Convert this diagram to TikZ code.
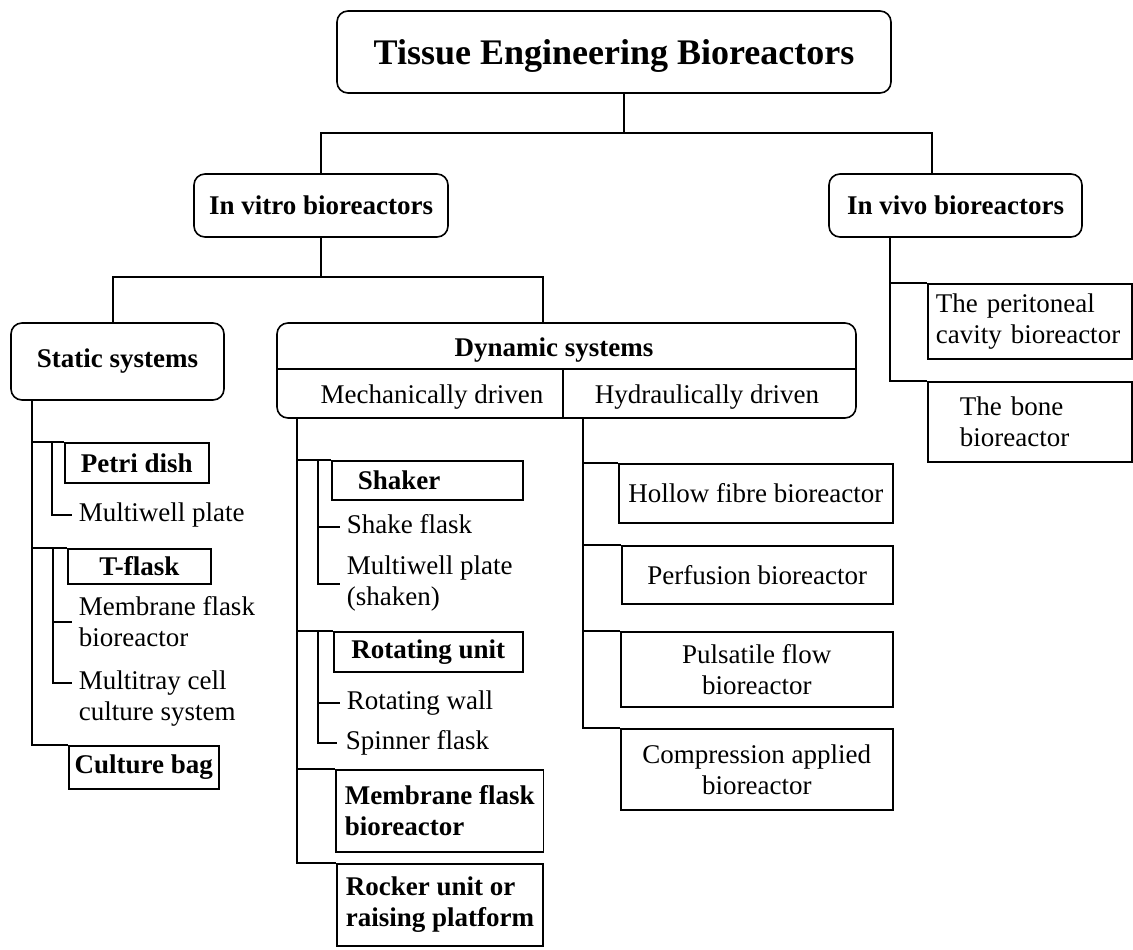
\documentclass[tikz,border=0pt]{standalone}
\usepackage{fontspec}
\setmainfont{Liberation Serif}
\usepackage{tikz}
\usetikzlibrary{calc}
\tikzstyle{every node}=[font=\fontsize{27}{31}\selectfont]
\tikzstyle{rbox}=[draw, rounded corners=11pt, font=\fontsize{27}{31}\selectfont\bfseries]
\tikzstyle{sbox}=[draw, inner sep=0pt, font=\fontsize{27}{31}\selectfont\bfseries]
\tikzstyle{pbox}=[draw, inner sep=0pt, align=center]
\tikzstyle{plain}=[inner xsep=6pt, inner ysep=0pt, align=left]

\begin{document}
\begin{tikzpicture}[x=1pt, y=-1pt, line width=1.6pt]
        \useasboundingbox (0,0) rectangle (1133,950);

        \node [rbox, minimum width=554pt, minimum height=82pt, text depth=0pt, font=\fontsize{36}{40}\selectfont\bfseries] (title) at (614,52) {Tissue Engineering Bioreactors};
        \node [rbox, minimum width=254pt, minimum height=63pt] (vitro) at (321,205.5) {In vitro bioreactors};
        \node [rbox, minimum width=253pt, minimum height=63pt] (vivo) at (955.5,205.5) {In vivo bioreactors};

        \coordinate (j0) at (624,133);
        \draw (title.south -| j0) -- (j0);
        \draw (vitro.north) |- (j0) -| (vivo.north -| 932,0);

        \node [rbox, minimum width=213pt, minimum height=77pt] (static) at (117.5,361.5) {Static systems};
        \node [rbox, minimum width=579pt, minimum height=95pt] (dyn) at (566.5,370.5) {};
        \node [font=\fontsize{27}{31}\selectfont\bfseries] (dyntitle) at (554,350) {Dynamic systems};
        \node (mech) at (432,397) {Mechanically driven};
        \node (hyd) at (707,397) {Hydraulically driven};
        \draw (dyn.west |- 0,369) -- (dyn.east |- 0,369);
        \draw (563,369) -- (dyn.south -| 563,0);

        \coordinate (j1) at (321,277);
        \draw (vitro.south) -- (j1);
        \draw (static.north -| 113,0) |- (j1) -| (dyn.north -| 543,0);

        \node [sbox, anchor=north west, minimum width=144pt, minimum height=40pt] (petri) at (64,442) {Petri dish};
        \node [plain, anchor=base west] (mwp) at (72,521) {Multiwell plate};
        \node [sbox, anchor=north west, minimum width=143pt, minimum height=35pt] (tflask) at (67,548) {T-flask};
        \node [plain, anchor=west] (mfb) at (72,622) {Membrane flask\\bioreactor};
        \node [plain, anchor=base west] (mtc) at (72,720) {Multitray cell\\culture system};
        \node [sbox, anchor=north west, minimum width=150pt, minimum height=43pt] (cbag) at (68,745) {Culture bag};

        \coordinate (sroot) at (static.south -| 32,0);
        \draw (sroot) |- (petri.north west);
        \draw (sroot) |- (tflask.north west);
        \draw (sroot) |- (cbag.north west);
        \draw (petri.north west -| 52,0) |- ([yshift=6pt]mwp.base west);
        \draw (tflask.north west -| 53,0) |- (mfb.west);
        \draw (tflask.north west -| 53,0) |- ([yshift=37pt]mtc.base west);

        \node [sbox, anchor=north west, minimum width=191pt, minimum height=39pt, text width=139pt, inner xsep=26pt, align=left] (shaker) at (331,460) {Shaker};
        \node [plain, anchor=base west] (shf) at (340,533) {Shake flask};
        \node [plain, anchor=west] (mwps) at (340,584) {Multiwell plate\\(shaken)};
        \node [sbox, anchor=north west, minimum width=189pt, minimum height=40pt] (rot) at (333,631) {Rotating unit};
        \node [plain, anchor=base west] (rwall) at (340,709) {Rotating wall};
        \node [plain, anchor=base west, inner xsep=8pt] (spin) at (337,749) {Spinner flask};
        \node [sbox, anchor=north west, inner xsep=9pt, minimum height=82pt, align=left] (memb) at (335,769) {Membrane flask\\bioreactor};
        \node [sbox, anchor=north west, inner xsep=9pt, minimum height=82pt, align=left] (rock) at (336,863) {Rocker unit or\\raising platform};

        \coordinate (mroot) at (dyn.south -| 297,0);
        \draw (mroot) |- (shaker.north west);
        \draw (mroot) |- (rot.north west);
        \draw (mroot) |- (memb.north west);
        \draw (mroot) |- (rock.north west);
        \draw (shaker.north west -| 318,0) |- ([yshift=6pt]shf.base west);
        \draw (shaker.north west -| 318,0) |- (mwps.west);
        \draw (rot.north west -| 318,0) |- ([yshift=6pt]rwall.base west);
        \draw (rot.north west -| 318,0) |- ([yshift=6pt]spin.base west);

        \node [pbox, anchor=north west, minimum width=274pt, minimum height=59pt] (hollow) at (618,463) {Hollow fibre bioreactor};
        \node [pbox, anchor=north west, minimum width=271pt, minimum height=58pt] (perf) at (621,545) {Perfusion bioreactor};
        \node [pbox, anchor=north west, minimum width=272pt, minimum height=75pt] (puls) at (620,631) {Pulsatile flow\\bioreactor};
        \node [pbox, anchor=north west, minimum width=272pt, minimum height=81pt] (comp) at (620,728) {Compression applied\\bioreactor};

        \coordinate (hroot) at (dyn.south -| 583,0);
        \draw (hroot) |- (hollow.north west);
        \draw (hroot) |- (perf.north west);
        \draw (hroot) |- (puls.north west);
        \draw (hroot) |- (comp.north west);

        \node [pbox, anchor=north west, minimum height=75pt, text width=188pt, inner xsep=8pt, align=left] (perit) at (927,283) {The peritoneal\\cavity bioreactor};
        \node [pbox, anchor=north west, minimum height=80pt, text width=140pt, inner xsep=32pt, align=left] (bone) at (927,381) {The bone\\bioreactor};

        \coordinate (vroot) at (vivo.south -| 890,0);
        \draw (vroot) |- (perit.north west);
        \draw (vroot) |- (bone.north west);
    \end{tikzpicture}
\end{document}
